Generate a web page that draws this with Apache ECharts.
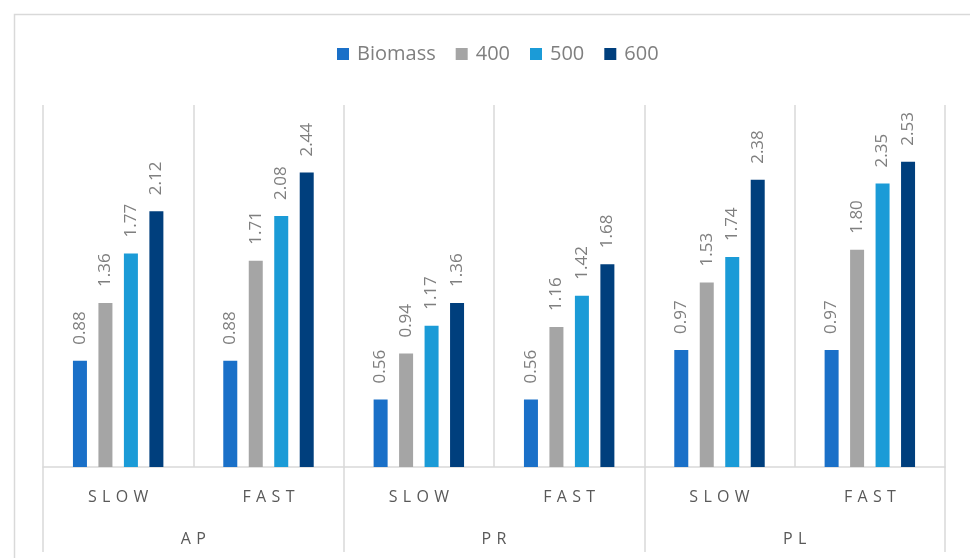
<!DOCTYPE html>
<html><head><meta charset="utf-8">
<script src="https://cdn.jsdelivr.net/npm/echarts@6/dist/echarts.min.js"></script>
<style>html,body{margin:0;padding:0;background:#fff}#c{width:970px;height:558px}</style>
</head><body><div id="c"></div>
<script>
const speeds = ['SLOW','FAST','SLOW','FAST','SLOW','FAST'];
const groups = ['AP','PR','PL'];
const seriesNames = ['Biomass','400','500','600'];
const biomass = [0.88,0.88,0.56,0.56,0.97,0.97];
const t400 = [1.36,1.71,0.94,1.16,1.53,1.80];
const t500 = [1.77,2.08,1.17,1.42,1.74,2.35];
const t600 = [2.12,2.44,1.36,1.68,2.38,2.53];
const colors = ['#1a70c8','#a5a5a5','#1b9bd7','#003f7d'];

const spaced = s => s.split('').join('\u2009\u2009');
const FONT = '"Open Sans", sans-serif';
const data = [biomass,t400,t500,t600];
const chart = echarts.init(document.getElementById('c'));
chart.setOption({
  animation:false,
  color: colors,
  textStyle:{fontFamily:FONT},
  graphic:[{type:'rect',shape:{x:14.5,y:14.5,width:1000,height:600},style:{fill:'none',stroke:'#d9d9d9',lineWidth:1.5},silent:true}],
  legend:{top:44,left:337,padding:0,itemWidth:12,itemHeight:12,itemGap:20,icon:'rect',
    textStyle:{fontSize:20,color:'#7f7f7f',fontFamily:FONT,padding:[0,0,0,3]},data:seriesNames},
  grid:{left:43,right:25,top:105,bottom:91,containLabel:false},
  xAxis:[{type:'category',data:speeds.map(spaced),
      axisLine:{show:true,lineStyle:{color:'#d9d9d9',width:1.5}},
      axisTick:{show:false},
      splitLine:{show:true,interval:0,lineStyle:{color:'#d9d9d9',width:1.5}},
      axisLabel:{interval:0,margin:22,fontSize:16,color:'#595959',fontFamily:FONT}},
    {type:'category',data:groups.map(spaced),position:'bottom',
      axisLine:{show:false},
      axisTick:{show:true,length:85,interval:0,lineStyle:{color:'#d9d9d9',width:1.5}},
      axisLabel:{interval:0,margin:64,fontSize:16,color:'#595959',fontFamily:FONT}}],
  yAxis:{type:'value',min:0,max:3,show:false,splitLine:{show:false}},
  series: seriesNames.map((n,i)=>({name:n,type:'bar',xAxisIndex:0,data:data[i],
    barWidth:14,barGap:'82%',
    label:{show:true,position:'top',rotate:90,align:'left',verticalAlign:'middle',distance:16,
      fontSize:17,color:'#7f7f7f',fontFamily:FONT,formatter:p=>p.value.toFixed(2)}}))
});
</script></body></html>
